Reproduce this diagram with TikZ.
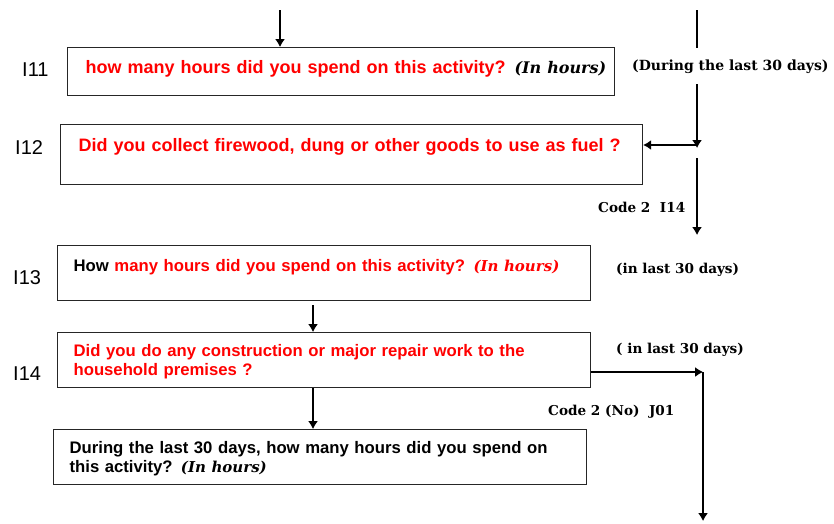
\documentclass[tikz,border=0pt]{standalone}
\usepackage{fontspec}
\setmainfont{Liberation Sans}
\newfontfamily\notefont{DejaVu Serif}
\usetikzlibrary{arrows.meta}
\tikzset{%
	question box/.style={
		draw=black!85,
		line width=1.2pt,
		anchor=north west,
		align=left,
		inner xsep=16pt,
		inner ysep=0pt,
		font=\bfseries\fontsize{16.7}{19}\selectfont
	},
	item label/.style={
		anchor=base west,
		inner sep=0pt,
		font=\fontsize{20}{24}\selectfont
	},
	skip note/.style={
		anchor=base west,
		inner sep=0pt,
		font=\notefont\bfseries\fontsize{13.6}{16}\selectfont
	},
	flow arrow/.style={
		line width=1.3pt,
		-{Latex[length=8pt,width=10pt]}
	},
}
\newcommand{\hoursnote}[1]{{\notefont\bfseries\itshape\fontsize{#1}{19}\selectfont(In hours)}}

\begin{document}
\begin{tikzpicture}[x=1pt,y=-1pt]
	\useasboundingbox (0,0) rectangle (834,523);
	
	% Draw the question boxes
	\node[question box, inner xsep=18pt, text width=511pt, text height=26pt, text depth=22pt,
		font=\bfseries\fontsize{18}{19}\selectfont] (q11) at (67,47)
		{\mbox{\textcolor{red}{how many hours did you spend on this activity?} \hoursnote{16}}};
	\node[question box, inner xsep=18pt, text width=546pt, text height=27pt, text depth=33pt,
		font=\bfseries\fontsize{18}{19}\selectfont] (q12) at (60,124)
		{\textcolor{red}{Did you collect firewood, dung or other goods to use as fuel ?}};
	\node[question box, text width=501pt, text height=26pt, text depth=29pt] (q13) at (57,245)
		{How \textcolor{red}{many hours did you spend on this activity? \hoursnote{15}}};
	\node[question box, text width=501pt, text height=24pt, text depth=31pt] (q14) at (57,332)
		{\textcolor{red}{Did you do any construction or major repair work to the\\household premises ?}};
	\node[question box, text width=501pt, text height=24pt, text depth=31pt] (q15) at (53,429)
		{During the last 30 days, how many hours did you spend on\\this activity? \hoursnote{15}};
	
	% Draw the item numbers to the left of the boxes
	\foreach \num/\x/\y in {11/22/76, 12/15/154, 13/13/284, 14/13/380} {
		\node[item label] (lab\num) at (\x,\y) {I\num};
	}
	
	% Notes beside the skip lines
	\node[skip note, font=\notefont\bfseries\fontsize{14}{16}\selectfont, inner ysep=11pt] (d30a) at (632,70) {(During the last 30 days)};
	\node[skip note] (code14) at (598,212) {Code 2~~I14};
	\node[skip note] (d30b) at (616,273) {(in last 30 days)};
	\node[skip note] (d30c) at (616,353) {( in last 30 days)};
	\node[skip note] (codej01) at (548,415) {Code 2 (No)~~J01};
	
	% Arrows into the boxes
	\coordinate (in11) at (280,10);
	\draw[flow arrow] (in11) -- (in11 |- q11.north);
	
	\coordinate (side top) at (697,10);
	\coordinate (fork) at (697,145);
	\draw[line width=1.3pt] (side top) -- (side top |- d30a.north);
	\draw[flow arrow] (side top |- d30a.south) -- ([yshift=-3pt]fork);
	\draw[flow arrow] (fork) -- (fork -| q12.east);
	
	\coordinate (skip top) at (697,158);
	\coordinate (skip end) at (697,235);
	\draw[flow arrow] (skip top) -- (skip end);
	
	\coordinate (mid) at (313,0);
	\draw[flow arrow, shorten <=4pt] (mid |- q13.south) -- (mid |- q14.north);
	\draw[flow arrow] (mid |- q14.south) -- (mid |- q15.north);
	
	% Skip from I14 down the right side
	\coordinate (exit14) at (703,372);
	\coordinate (exit end) at (703,521);
	\draw[flow arrow] (q14.east |- exit14) -- (exit14);
	\draw[flow arrow] (exit14) -- (exit end);
	
\end{tikzpicture}
\end{document}
